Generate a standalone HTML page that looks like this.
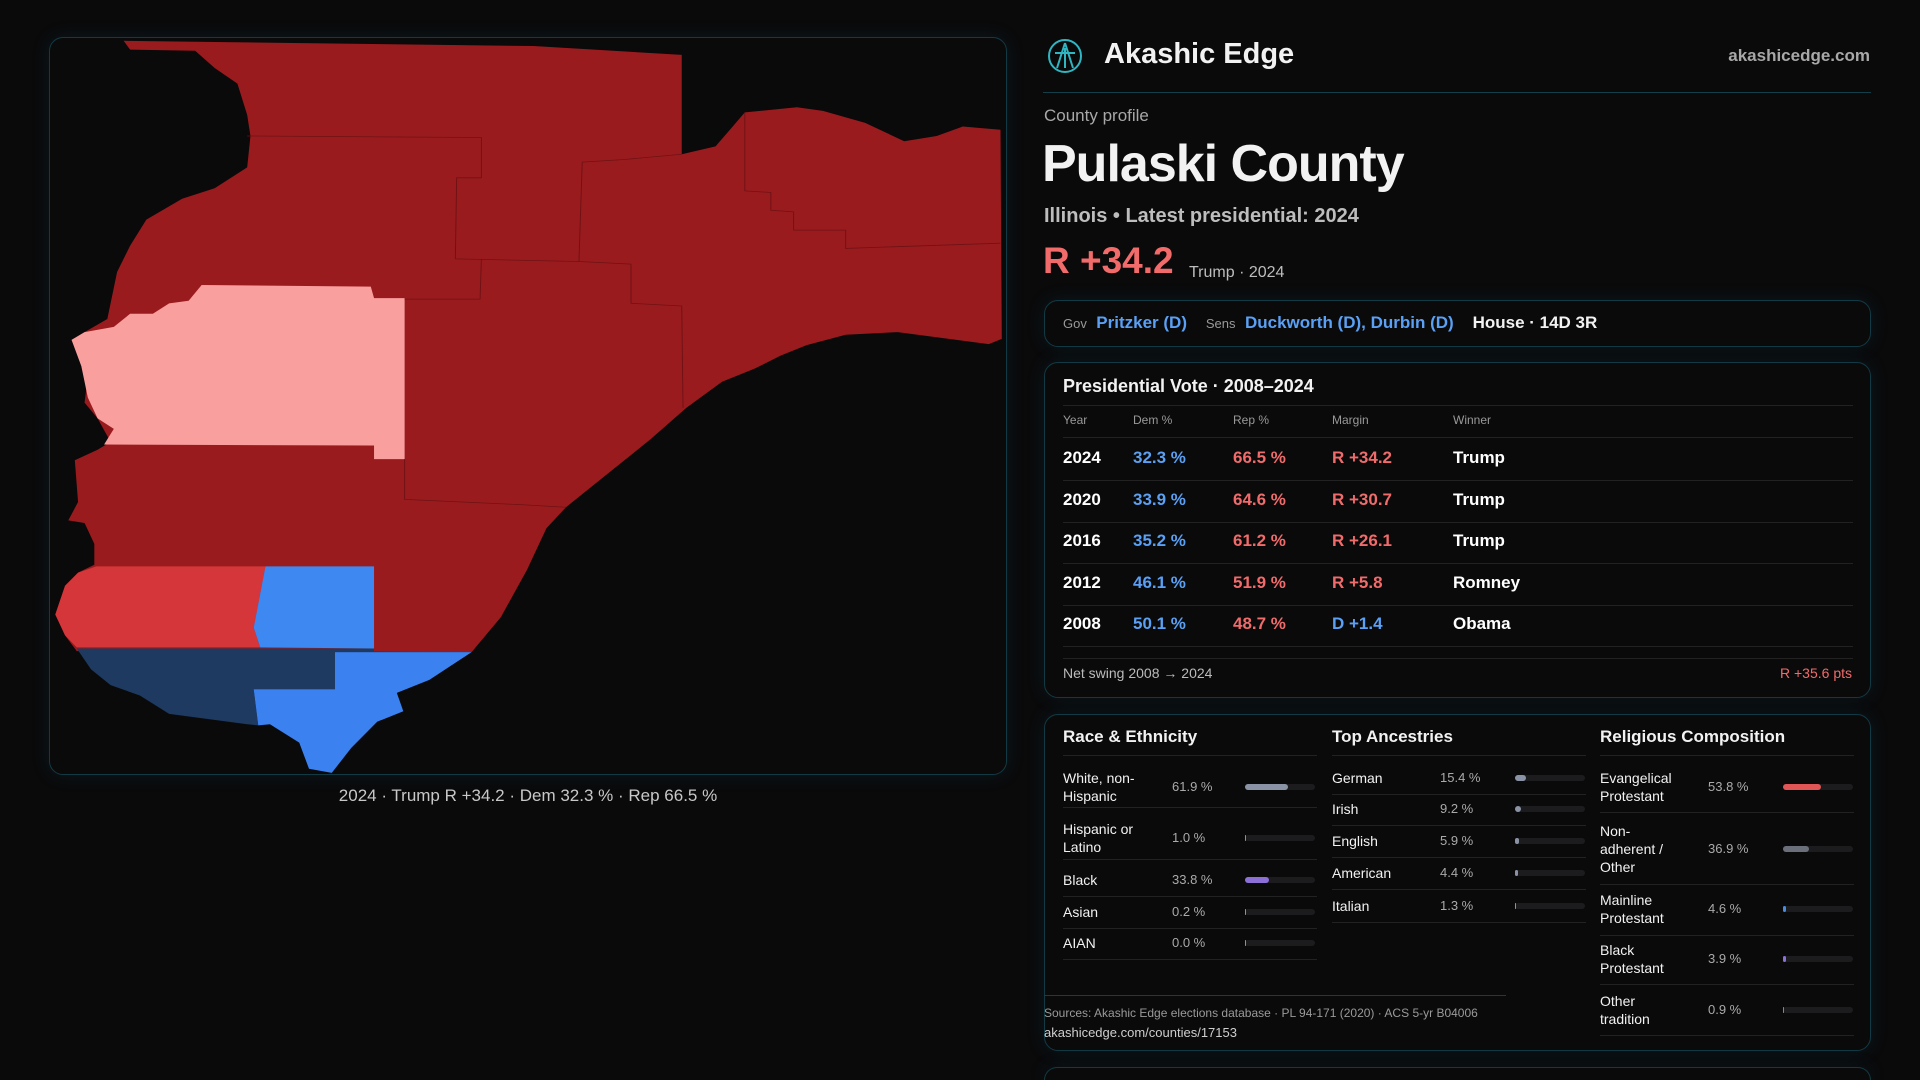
<!DOCTYPE html>
<html style="overflow:hidden;width:1920px;height:1080px"><head><meta charset="utf-8">
<style>
*{box-sizing:border-box;margin:0;padding:0}
body{width:1920px;height:1080px;background:#0a0a0b;font-family:"Liberation Sans",sans-serif;color:#f2f2f2;position:relative;overflow:hidden}
.abs{position:absolute;white-space:nowrap}
.panel{position:absolute;border:1px solid #123a44;border-radius:14px;background:#0a0a0b;box-shadow:0 0 18px rgba(20,90,110,.18)}
.dem{color:#5aa0f5}.rep{color:#f26b6b}
</style></head><body>
<div class="panel" style="left:49px;top:37px;width:958px;height:738px"></div>
<svg style="position:absolute;left:0;top:0" width="1020" height="820" viewBox="0 0 1568 1568" preserveAspectRatio="none">
<polygon fill="#9a1b1e" points="190,78 820,88 1048,105 1048,295 1100,280 1145,215 1225,205 1265,212 1330,235 1390,270 1440,260 1480,242 1538,248 1540,648 1520,658 1380,635 1300,640 1240,660 1200,680 1160,705 1110,730 1055,780 1000,840 930,910 870,970 840,1010 810,1090 770,1180 725,1247 118,1245 100,1215 85,1175 100,1120 120,1095 145,1080 145,1040 130,1000 105,995 120,960 115,880 150,860 170,845 150,800 130,770 135,720 125,690 110,650 130,635 165,610 180,520 200,470 225,420 280,380 330,360 380,320 385,260 380,220 365,160 330,130 300,97 200,95"/>
<polygon fill="#f9a09f" points="310,545 570,548 575,570 622,570 622,878 575,878 575,852 160,850 175,820 150,800 135,760 125,700 110,650 130,635 175,625 200,600 235,600 260,580 290,575"/>
<polygon fill="#d43639" points="148,1083 408,1083 390,1200 400,1238 118,1238 100,1215 85,1175 100,1120 120,1095"/>
<polygon fill="#3e88f2" points="408,1083 575,1083 575,1240 400,1238 390,1200"/>
<polygon fill="#1e3a60" points="118,1240 575,1240 575,1247 515,1247 515,1318 390,1318 397,1387 380,1385 260,1365 215,1330 170,1310 140,1280"/>
<polygon fill="#3b82f0" points="515,1247 725,1247 660,1300 610,1325 620,1360 580,1380 540,1430 510,1478 475,1470 460,1420 415,1385 397,1387 390,1318 515,1318"/>
<g fill="none" stroke="#6e1215" stroke-width="1.5">
<polyline points="380,260 740,263 740,340 702,340 700,495 890,500 895,310 960,305 1048,295"/>
<polyline points="1145,215 1145,365 1185,368 1185,402 1220,405 1220,440 1300,440 1300,475 1538,465"/>
<polyline points="740,495 738,572 622,572"/>
<polyline points="890,500 970,505 970,580 1048,585 1050,780"/>
<polyline points="622,878 622,955 800,965 870,970"/>
</g>
</svg>
<div class="abs" style="left:0;width:1056px;text-align:center;top:786px;font-size:17px;color:#c8c8c8">2024 · Trump R +34.2 · Dem 32.3 % · Rep 66.5 %</div>

<svg class="abs" style="left:1047px;top:38px" width="36" height="36" viewBox="0 0 36 36"><circle cx="18" cy="18" r="16" fill="none" stroke="#2fb6c2" stroke-width="2"/><path d="M18 5 L10 30 M18 5 L26 30 M8 15 L28 15 M18 10 L18 30" stroke="#2fb6c2" stroke-width="2" fill="none"/></svg>
<div class="abs" style="left:1104px;top:38px;font-size:29px;font-weight:bold">Akashic Edge</div>
<div class="abs" style="right:50px;top:46px;font-size:17px;color:#a8a8a8;font-weight:bold">akashicedge.com</div>
<div class="abs" style="left:1043px;top:92px;width:828px;height:1px;background:#123f48"></div>
<div class="abs" style="left:1044px;top:106px;font-size:17px;color:#a8a8a8">County profile</div>
<div class="abs" style="left:1042px;top:134px;font-size:52px;font-weight:bold;letter-spacing:-1px">Pulaski County</div>
<div class="abs" style="left:1044px;top:205px;font-size:20px;color:#bdbdbd;font-weight:bold">Illinois • Latest presidential: 2024</div>
<div class="abs rep" style="left:1043px;top:240px;font-size:37px;font-weight:bold">R +34.2</div>
<div class="abs" style="left:1189px;top:264px;font-size:16px;color:#bdbdbd">Trump · 2024</div>

<div class="panel" style="left:1044px;top:300px;width:827px;height:47px"></div>
<div class="abs" style="left:1063px;top:313px;font-size:17px;font-weight:bold"><span style="font-size:13px;color:#999;font-weight:normal">Gov</span>&nbsp; <span class="dem">Pritzker (D)</span>&nbsp;&nbsp;&nbsp; <span style="font-size:13px;color:#999;font-weight:normal">Sens</span>&nbsp; <span class="dem">Duckworth (D), Durbin (D)</span>&nbsp;&nbsp;&nbsp; House · 14D 3R</div>

<div class="panel" style="left:1044px;top:362px;width:827px;height:336px"></div>
<div class="abs" style="left:1063px;top:376px;font-size:18px;font-weight:bold">Presidential Vote · 2008–2024</div>
<div id="ptable"></div>
<div class="abs" style="left:1063px;top:665px;font-size:14px;color:#bbb">Net swing 2008 → 2024</div>
<div class="abs rep" style="right:68px;top:665px;font-size:14px">R +35.6 pts</div>

<div class="panel" style="left:1044px;top:714px;width:827px;height:337px"></div>
<div id="demo"></div>
<div class="abs" style="left:1044px;top:995px;width:462px;height:1px;background:#123f48"></div>
<div class="abs" style="left:1044px;top:1006px;font-size:12px;color:#9a9a9a">Sources: Akashic Edge elections database · PL 94-171 (2020) · ACS 5-yr B04006</div>
<div class="abs" style="left:1044px;top:1025px;font-size:13px;color:#cfcfcf">akashicedge.com/counties/17153</div>
<div class="panel" style="left:1044px;top:1067px;width:827px;height:13px;border-bottom:none;border-radius:14px 14px 0 0"></div>

<script>
const years=["2024","2020","2016","2012","2008"];
const demPct=[32.3,33.9,35.2,46.1,50.1];
const repPct=[66.5,64.6,61.2,51.9,48.7];
const margins=["R +34.2","R +30.7","R +26.1","R +5.8","D +1.4"];
const winners=["Trump","Trump","Trump","Romney","Obama"];
const raceLabels=["White, non-<br>Hispanic","Hispanic or<br>Latino","Black","Asian","AIAN"];
const raceValues=[61.9,1.0,33.8,0.2,0.0];
const ancLabels=["German","Irish","English","American","Italian"];
const ancValues=[15.4,9.2,5.9,4.4,1.3];
const relLabels=["Evangelical<br>Protestant","Non-<br>adherent /<br>Other","Mainline<br>Protestant","Black<br>Protestant","Other<br>tradition"];
const relValues=[53.8,36.9,4.6,3.9,0.9];

function div(parent,style,html){const d=document.createElement('div');d.className='abs';d.style.cssText=style;d.innerHTML=html;parent.appendChild(d);return d;}
const pt=document.getElementById('ptable');
const cols=[1063,1133,1233,1332,1453];
const hdr=["Year","Dem %","Rep %","Margin","Winner"];
hdr.forEach((h,i)=>{const d=div(pt,`left:${cols[i]}px;top:413px;font-size:12px;color:#999`,h);

});
const ln=(p,y,x,w)=>{const d=div(p,`left:${x}px;top:${y}px;width:${w}px;height:1px;background:#222`,'');

};
ln(pt,405,1063,790);ln(pt,437,1063,790);ln(pt,658,1063,790);
years.forEach((y,i)=>{
 const top=448+i*41.6;
 const isR=margins[i].charAt(0)==='R';
 const cells=[[y,'#fff'],[demPct[i].toFixed(1)+' %','#5aa0f5'],[repPct[i].toFixed(1)+' %','#f26b6b'],[margins[i],isR?'#f26b6b':'#5aa0f5'],[winners[i],'#fff']];
 cells.forEach((c,j)=>{const d=div(pt,`left:${cols[j]}px;top:${top}px;font-size:17px;font-weight:bold;color:${c[1]}`,c[0]);
 
 });
 ln(pt,top+32,1063,790);
});
const demo=document.getElementById('demo');
function section(title,x,labels,vals,rowTops,rowH,valX,barX,color){
 const t=div(demo,`left:${x}px;top:727px;font-size:17px;font-weight:bold`,title);
 
 
 ln(demo,755,x,254);
 labels.forEach((l,i)=>{
  const cy=rowTops[i];
  const lab=div(demo,`left:${x}px;top:${cy}px;transform:translateY(-50%);font-size:14px;line-height:18px;white-space:normal;width:90px`,l);
  
  
  const v=div(demo,`left:${valX}px;top:${cy-8}px;font-size:13px;color:#aaa`,vals[i].toFixed(1)+' %');
  
  
  const tr=div(demo,`left:${barX}px;top:${cy-3}px;width:70px;height:6px;border-radius:3px;background:#1c1c1f`,'');
  
  
  const b=div(demo,`left:${barX}px;top:${cy-3}px;width:${Math.max(1,70*vals[i]/100)}px;height:6px;border-radius:3px;background:${color[i]||color[0]}`,'');
  
  
  ln(demo,cy+rowH[i],x,254);
 });
}
section('Race & Ethnicity',1063,raceLabels,raceValues,[787,838,880,912,943],[20,21,16,16,16],1172,1245,['#8a93a6','#8a93a6','#8d6fd8','#8a93a6','#8a93a6']);
section('Top Ancestries',1332,ancLabels,ancValues,[778,809,841,873,906],[16,16,16,16,16],1440,1515,['#8a93a6']);
section('Religious Composition',1600,relLabels,relValues,[787,849,909,959,1010],[25,35,26,25,25],1708,1783,['#e05555','#6a6f7a','#4a8ae0','#8d6fd8','#888']);
</script>
</body></html>
